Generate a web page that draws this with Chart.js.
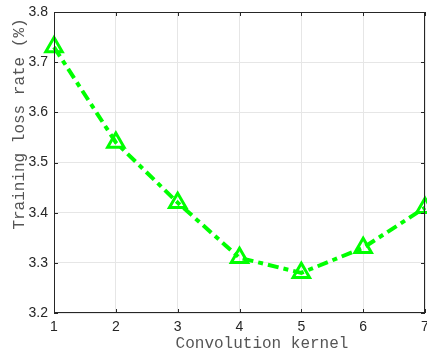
<!DOCTYPE html>
<html>
<head>
<meta charset="utf-8">
<script src="https://cdn.jsdelivr.net/npm/chart.js@4"></script>
<style>
  html, body { margin: 0; padding: 0; background: #fff; }
  #wrap { width: 427px; height: 354px; }
</style>
</head>
<body>
<div id="wrap"><canvas id="myChart" width="427" height="354"></canvas></div>
<script>
// data
var kernels = [1, 2, 3, 4, 5, 6, 7];
var lossRate = [3.73, 3.54, 3.42, 3.31, 3.28, 3.33, 3.41];
var yTicks = [3.2, 3.3, 3.4, 3.5, 3.6, 3.7, 3.8];

var xTitle = "Convolution kernel";
var yTitle = "Training loss rate (%)";

// no extra room for the outer tick labels
function noPadding() {
  return { left: 0, top: 0, right: 0, bottom: 0 };
}

// box, inner ticks and axis titles in MATLAB style
var boxPlugin = {
  id: 'boxPlugin',
  afterDatasetsDraw: function(chart) {
    var ctx = chart.ctx;
    var a = chart.chartArea;
    var xs = chart.scales.x, ys = chart.scales.y;
    ctx.save();
    ctx.strokeStyle = '#262626';
    ctx.lineWidth = 1;
    ctx.strokeRect(a.left + 0.5, a.top + 0.5, a.right - a.left - 1, a.bottom - a.top - 1);
    ctx.beginPath();
    for (var i = 0; i < kernels.length; i++) {
      var px = Math.round(xs.getPixelForValue(kernels[i])) + 0.5;
      ctx.moveTo(px, a.bottom); ctx.lineTo(px, a.bottom - 4);
      ctx.moveTo(px, a.top); ctx.lineTo(px, a.top + 4);
    }
    for (var j = 0; j < yTicks.length; j++) {
      var py = Math.round(ys.getPixelForValue(yTicks[j])) + 0.5;
      ctx.moveTo(a.left, py); ctx.lineTo(a.left + 4, py);
      ctx.moveTo(a.right, py); ctx.lineTo(a.right - 4, py);
    }
    ctx.stroke();

    ctx.fillStyle = '#555';
    ctx.font = '16px "Liberation Mono", monospace';
    ctx.textAlign = 'center';
    ctx.textBaseline = 'middle';
    ctx.fillText(xTitle, 262, 344);
    ctx.translate(20, 124);
    ctx.rotate(-Math.PI / 2);
    ctx.fillText(yTitle, 0, 0);
    ctx.restore();
  }
};

new Chart("myChart", {
  type: "line",
  data: {
    datasets: [{
      data: kernels.map(function(k, i) { return {x: k, y: lossRate[i]}; }),
      borderColor: '#00ff00',
      backgroundColor: 'rgba(0,0,0,0)',
      borderWidth: 4,
      borderDash: [11, 5, 5, 5],
      pointStyle: 'triangle',
      pointRadius: 9.5,
      pointBorderWidth: 3,
      pointBorderColor: '#00ff00',
      pointBackgroundColor: 'rgba(0,0,0,0)',
      tension: 0,
      clip: false
    }]
  },
  options: {
    responsive: false,
    animation: false,
    layout: { autoPadding: false, padding: { top: 12, right: 2, left: 0, bottom: 0 } },
    plugins: { legend: { display: false }, tooltip: { enabled: false } },
    scales: {
      x: {
        type: 'linear',
        min: 1, max: 7,
        afterFit: function(s) { s.height = 41; s.getPadding = noPadding; },
        afterBuildTicks: function(s) { s.ticks = kernels.map(function(v) { return {value: v}; }); },
        grid: { color: '#e6e6e6', drawTicks: false },
        border: { display: false },
        ticks: { color: '#262626', font: { family: 'Liberation Sans', size: 14 }, padding: 6, maxRotation: 0 }
      },
      y: {
        min: 3.2, max: 3.8,
        afterFit: function(s) { s.width = 54; s.getPadding = noPadding; },
        afterBuildTicks: function(s) { s.ticks = yTicks.map(function(v) { return {value: v}; }); },
        grid: { color: '#e6e6e6', drawTicks: false },
        border: { display: false },
        ticks: {
          color: '#262626', font: { family: 'Liberation Sans', size: 14 }, padding: 6,
          callback: function(v) { return v.toFixed(1); }
        }
      }
    }
  },
  plugins: [boxPlugin]
});
</script>
</body>
</html>
